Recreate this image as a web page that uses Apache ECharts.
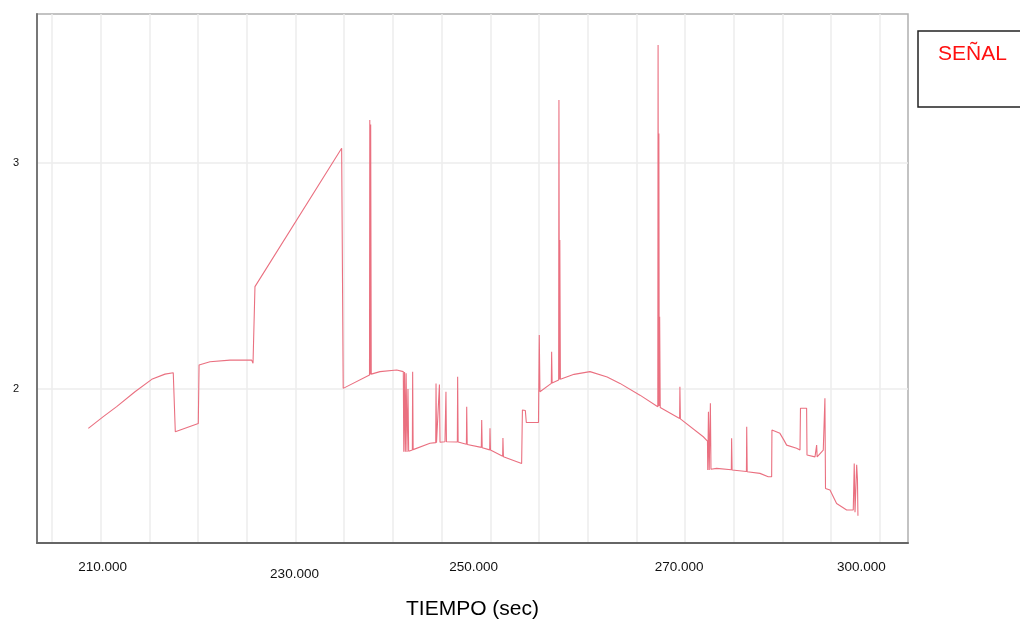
<!DOCTYPE html>
<html>
<head>
<meta charset="utf-8">
<script src="https://cdn.jsdelivr.net/npm/echarts@6/dist/echarts.min.js"></script>
<style>
  html, body { margin: 0; padding: 0; background: #fff; }
  #main { width: 1020px; height: 619px; }
</style>
</head>
<body>
<div id="main"></div>
<script>
// tiempo (s) y valor de la señal
var tiempo = [
  208.73, 210.20, 211.64, 213.52, 215.24, 216.60, 217.45, 217.62, 217.66, 220.02, 220.10,
  221.22, 223.27, 225.50, 225.64, 225.80, 225.84, 234.74, 234.88, 234.90, 237.60,
  237.63, 237.68, 237.72, 237.78, 238.68, 240.39, 241.07, 241.12, 241.20, 241.28,
  241.36, 241.45, 241.55, 241.62, 242.00, 242.03, 242.08, 243.81, 244.40, 244.43,
  244.48, 244.78, 244.84, 245.35, 245.45, 245.50, 246.62, 246.65, 246.70, 247.55,
  247.58, 247.63, 249.08, 249.12, 249.17, 249.94, 249.97, 250.02, 251.27, 251.30,
  251.35, 253.22, 253.30, 253.60, 253.70, 254.95, 255.03, 255.10, 256.27, 256.30,
  256.35, 257.02, 257.05, 257.10, 257.14, 257.20, 258.60, 260.24, 262.00, 263.32,
  265.37, 267.20, 267.23, 267.27, 267.31, 267.35, 267.39, 267.45, 269.44, 269.47,
  269.52, 271.87, 272.30, 272.33, 272.40, 272.48, 272.60, 272.66, 273.24, 274.75,
  274.78, 274.83, 276.30, 276.33, 276.38, 277.69, 278.54, 278.89, 278.92, 279.74,
  280.15, 280.43, 281.45, 281.80, 281.85, 282.48, 282.52, 283.34, 283.47, 283.51,
  283.56, 284.19, 284.33, 284.36, 284.42, 284.88, 285.56, 286.59, 287.27, 287.35,
  287.37, 287.45, 287.55, 287.62, 287.70, 287.75
];
var senal = [
  1.826, 1.876, 1.922, 1.988, 2.043, 2.066, 2.072, 2.072, 1.811, 1.848, 2.106,
  2.121, 2.128, 2.128, 2.114, 2.114, 2.453, 3.065, 3.065, 2.003, 2.062,
  3.190, 2.064, 3.170, 2.066, 2.077, 2.084, 2.077, 1.723, 2.075, 1.723,
  2.070, 1.722, 2.000, 1.725, 1.730, 2.077, 1.732, 1.760, 1.763, 2.025,
  1.763, 2.020, 1.765, 1.767, 1.988, 1.767, 1.766, 2.054, 1.766, 1.756,
  1.922, 1.755, 1.742, 1.863, 1.740, 1.731, 1.827, 1.730, 1.703, 1.783,
  1.701, 1.671, 1.907, 1.905, 1.852, 1.852, 2.239, 1.988, 2.025, 2.165,
  2.027, 2.040, 3.279, 2.042, 2.659, 2.043, 2.065, 2.077, 2.053, 2.025,
  1.973, 1.922, 3.522, 1.924, 3.130, 1.925, 2.320, 1.918, 1.870, 2.010,
  1.868, 1.789, 1.770, 1.642, 1.900, 1.642, 1.937, 1.645, 1.649, 1.643,
  1.782, 1.642, 1.635, 1.833, 1.634, 1.627, 1.612, 1.612, 1.819, 1.804,
  1.774, 1.752, 1.738, 1.730, 1.915, 1.915, 1.708, 1.700, 1.700, 1.752,
  1.700, 1.730, 1.730, 1.959, 1.560, 1.553, 1.494, 1.465, 1.465, 1.465,
  1.671, 1.455, 1.455, 1.665, 1.600, 1.440
];

// rejilla vertical cada 5 s
var xGridAt = [205, 210, 215, 220, 225, 230, 235, 240, 245, 250, 255, 260, 265, 270, 275, 280, 285, 290];
// etiquetas del eje x tal como aparecen (posiciones irregulares)
var xLabelAt = [210.2, 229.9, 248.3, 269.4, 288.1];
var xLabelText = ['210.000', '230.000', '250.000', '270.000', '300.000'];
var yTicks = [2, 3];

var points = tiempo.map(function (t, i) { return [t, senal[i]]; });

var myChart = echarts.init(document.getElementById('main'));

var option = {
  animation: false,
  backgroundColor: '#fff',
  textStyle: { fontFamily: 'Liberation Sans, Arial, sans-serif' },
  legend: {
    data: ['SEÑAL'],
    left: 918,
    top: 31,
    icon: 'none',
    itemWidth: 0,
    padding: [13, 40, 42, 15],
    borderColor: '#222',
    borderWidth: 1.5,
    textStyle: { color: '#ff1010', fontSize: 21 }
  },
  grid: {
    left: 37,
    right: 112,
    top: 14,
    bottom: 76,
    outerBoundsMode: 'none',
    show: true,
    borderColor: '#b0b0b0',
    borderWidth: 1.5
  },
  xAxis: {
    type: 'value',
    min: 203.46,
    max: 292.89,
    name: 'TIEMPO (sec)',
    nameLocation: 'middle',
    nameGap: 56,
    nameTextStyle: { fontSize: 21, color: '#000' },
    axisLine: { lineStyle: { color: '#666', width: 2 } },
    axisTick: { show: false, customValues: xGridAt },
    splitLine: { show: true, lineStyle: { color: '#ececec', width: 1.5 } },
    axisLabel: {
      customValues: xLabelAt,
      margin: 17,
      color: '#111',
      fontSize: 13.5,
      formatter: function (v) {
        var i = xLabelAt.indexOf(v);
        var s = i >= 0 ? xLabelText[i] : '';
        return i === 1 ? '{lo|' + s + '}' : s;
      },
      rich: { lo: { fontSize: 13.5, color: '#111', padding: [7, 0, 0, 0] } }
    }
  },
  yAxis: {
    type: 'value',
    min: 1.319,
    max: 3.659,
    axisLine: { show: true, lineStyle: { color: '#777', width: 2 } },
    axisTick: { show: false, customValues: yTicks },
    splitLine: { show: true, lineStyle: { color: '#ececec', width: 1.5 } },
    axisLabel: {
      customValues: yTicks,
      margin: 18,
      color: '#111',
      fontSize: 11
    }
  },
  series: [{
    name: 'SEÑAL',
    type: 'line',
    data: points,
    showSymbol: false,
    color: '#ea7080',
    lineStyle: { width: 1.1, color: '#ea7080' }
  }]
};

myChart.setOption(option);
</script>
</body>
</html>
